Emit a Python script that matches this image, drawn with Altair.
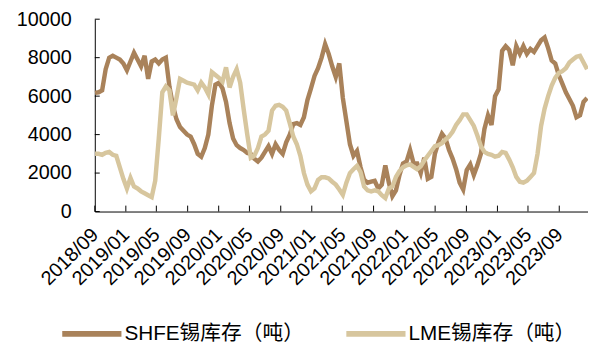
import altair as alt
import pandas as pd

# ---- data (approx. biweekly samples) ----
shfe = [6170, 6200, 6300, 7400, 8000, 8100, 8000, 7900, 7700, 7350,
        7800, 8250, 7900, 7550, 8100, 6900, 7800, 7900, 7700, 7900,
        8000, 6500, 5500, 4800, 4400, 4200, 4000, 3900, 3500, 3000,
        2850, 3300, 4000, 5500, 6600, 6700, 6400, 5700, 4600, 3800,
        3450, 3300, 3200, 3050, 3000, 2750, 2600, 2800, 3100, 3400,
        3000, 3500, 3200, 3000, 3600, 4000, 4550, 4600, 4500, 4900,
        5800, 6400, 7050, 7450, 8000, 8700, 8200, 7550, 7000, 7700,
        5900, 4700, 3500, 2900, 3150, 2300, 1650, 1500, 1550, 1600,
        1200, 1400, 2400, 1500, 800, 1100, 1900, 2500, 2600, 3200,
        2500, 2500, 2000, 2800, 1700, 1800, 3000, 3600, 4050, 3800,
        3200, 2750, 2200, 1500, 1150, 2150, 2450, 1900, 2400, 3000,
        4300, 5000, 4500, 6000, 6350, 8350, 8600, 8400, 7600, 8600,
        8200, 8600, 8200, 8450, 8300, 8600, 8900, 9050, 8500, 7850,
        7700, 7100, 6650, 6200, 5850, 5500, 4900, 5000, 5700, 5900]

lme = [3000, 3000, 2950, 3050, 3100, 2950, 2900, 2300, 1700, 1200,
       1750, 1300, 1200, 1050, 950, 850, 750, 1600, 3800, 6200,
       6500, 6300, 5000, 5900, 6900, 6800, 6700, 6650, 6600, 6300,
       6700, 6450, 6100, 7250, 7100, 6950, 6750, 7500, 6450, 7000,
       7400, 6700, 5300, 4000, 2800, 2900, 3300, 3900, 4000, 4200,
       5250, 5500, 5550, 5450, 5250, 4600, 3900, 3500, 2900, 2000,
       1400, 1050, 1200, 1640, 1780, 1780, 1720, 1550, 1400, 1150,
       870, 1500, 2000, 2200, 2380, 2050, 1300, 1100, 1050, 1100,
       1050, 850, 700, 1200, 1300, 1800, 2100, 2300, 2400, 2450,
       2320, 2200, 2350, 2650, 2900, 3150, 3400, 3450, 3550, 3750,
       3900, 4150, 4500, 4750, 5050, 5050, 4750, 4450, 3950, 3400,
       3100, 3000, 2950, 2850, 2900, 3100, 3050, 2700, 2300, 1800,
       1550, 1500, 1600, 1800, 2000, 3000, 4450, 5350, 6000, 6550,
       6950, 7200, 7300, 7450, 7750, 7900, 8050, 8100, 7750, 7400]

dates = pd.date_range("2018-09-02", periods=len(shfe), freq="334h")

series_names = ["SHFE锡库存（吨）", "LME锡库存（吨）"]
colors = ["#A9825A", "#D7C69E"]

tick_months = [(2018, 9), (2019, 1), (2019, 5), (2019, 9), (2020, 1), (2020, 5),
               (2020, 9), (2021, 1), (2021, 5), (2021, 9), (2022, 1), (2022, 5),
               (2022, 9), (2023, 1), (2023, 5), (2023, 9)]
y_ticks = [0, 2000, 4000, 6000, 8000, 10000]

df = pd.concat([
    pd.DataFrame({"date": dates, "value": shfe, "series": series_names[0]}),
    pd.DataFrame({"date": dates, "value": lme, "series": series_names[1]}),
])
xt = pd.DataFrame({"date": [pd.Timestamp(y, m, 1) for y, m in tick_months]})
yt = pd.DataFrame({"v": y_ticks})

FONT = "Liberation Sans, Arial, Noto Sans CJK SC"

x_scale = alt.Scale(domain=[alt.DateTime(year=2018, month=9, date=1),
                            alt.DateTime(year=2023, month=12, date=23)])
y_scale = alt.Scale(domain=[0, 10000], nice=False)

x_axis = alt.Axis(values=[alt.DateTime(year=y, month=m, date=1) for y, m in tick_months],
                  format="%Y/%m", labelAngle=-45, labelAlign="right", labelBaseline="middle",
                  ticks=False, tickSize=0, labelPadding=20, grid=False,
                  domainColor="#000000", labelColor="#000000", labelFontSize=20,
                  labelFont=FONT, title=None, labelOverlap=False, labelBound=False,
                  labelFlush=False)
y_axis = alt.Axis(values=y_ticks, format="d", ticks=False, tickSize=0, labelPadding=24,
                  grid=False, domainColor="#000000", labelColor="#000000",
                  labelFontSize=20, labelFont=FONT, title=None, labelOverlap=False,
                  labelFlush=False)

color = alt.Color("series:N",
                  scale=alt.Scale(domain=series_names, range=colors),
                  legend=alt.Legend(orient="none", legendX=-36, legendY=286,
                                    direction="horizontal", title=None,
                                    symbolType="stroke", symbolSize=3600,
                                    symbolStrokeWidth=6, labelFontSize=21,
                                    labelFont=FONT, labelColor="#000000",
                                    labelLimit=400, columnPadding=30, labelOffset=0))

base = alt.Chart(df).mark_line(strokeWidth=4.5, interpolate="linear").encode(
    x=alt.X("date:T", scale=x_scale, axis=x_axis),
    y=alt.Y("value:Q", scale=y_scale, axis=y_axis),
    color=color,
)
shfe_line = base.transform_filter(alt.datum.series == series_names[0])
lme_line = base.transform_filter(alt.datum.series == series_names[1])

xticks = alt.Chart(xt).mark_rule(color="#000000", strokeWidth=1).encode(
    x=alt.X("date:T", scale=x_scale, axis=x_axis),
    y=alt.value(195), y2=alt.value(189))
yticks = alt.Chart(yt).mark_rule(color="#000000", strokeWidth=1).encode(
    y=alt.Y("v:Q", scale=y_scale, axis=y_axis),
    x=alt.value(0), x2=alt.value(5))

chart = alt.layer(shfe_line, lme_line, xticks, yticks).properties(
    width=500, height=195,
    autosize=alt.AutoSizeParams(type="none"),
    padding={"left": 88, "top": 9, "right": 0, "bottom": 136},
    background="#ffffff",
).configure_view(stroke=None)

chart.save("out.html", embed_options={"renderer": "svg", "actions": False})
